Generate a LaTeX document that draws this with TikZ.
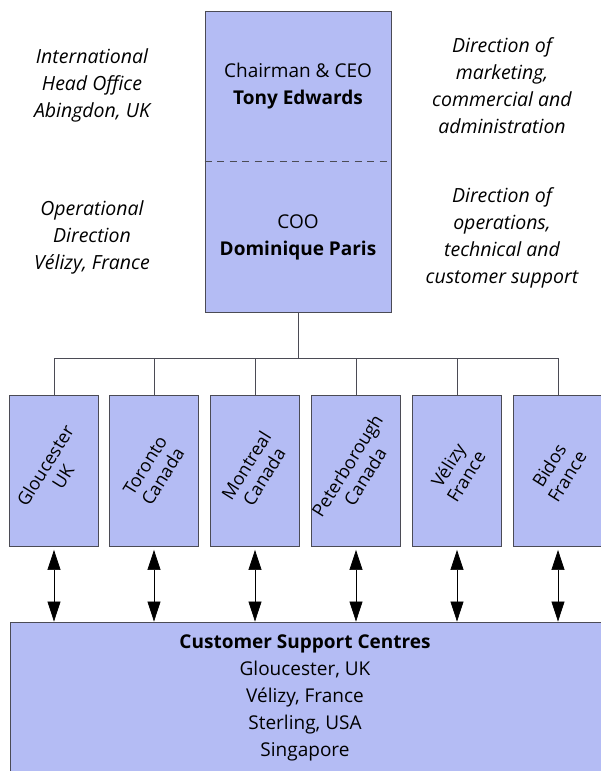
\documentclass[tikz,border=0pt]{standalone}
\usepackage{fontspec}
\setmainfont{Open Sans}
\usetikzlibrary{arrows.meta}
\definecolor{boxblue}{RGB}{180,188,244}
\definecolor{boxline}{RGB}{75,75,85}

\begin{document}
\begin{tikzpicture}[x=1pt,y=-1pt,
	orgbox/.style={draw=boxline, fill=boxblue, line width=0.9pt, inner sep=0pt},
	site/.style={orgbox, minimum width=89pt, minimum height=151pt},
	place/.style={rotate=58, align=center, font=\fontsize{18}{21}\selectfont},
	boxtext/.style={align=center, font=\fontsize{19}{27}\selectfont},
	note/.style={align=center, font=\fontsize{19.5}{27}\selectfont\itshape},
	link/.style={line width=0.7pt, draw=boxline},
	both/.style={line width=0.7pt, draw=black, {Triangle[length=20pt,width=13pt]}-{Triangle[length=20pt,width=13pt]}}]
		%%%%% START %%%%%
		\clip (0,0) rectangle (601,771);
		
		% head office box
		\node[orgbox, minimum width=186pt, minimum height=301pt] (head) at (298,161.5) {};
		\draw[boxline, line width=0.9pt, dash pattern=on 7pt off 5.5pt] (head.west) -- (head.east);
		\node[boxtext] (ceo) at (298,86) {Chairman \& CEO\\\textbf{Tony Edwards}};
		\node[boxtext] (coo) at (298,237) {COO\\\textbf{Dominique Paris}};
		
		% side notes
		\node[note] (hq) at (92,85) {International\\Head Office\\Abingdon, UK};
		\node[note] (ops) at (92,237) {Operational\\Direction\\Vélizy, France};
		\node[note] (mkt) at (502,86) {Direction of\\marketing,\\commercial and\\administration};
		\node[note] (tech) at (502,238) {Direction of\\operations,\\technical and\\customer support};
		
		% sites
		\node[site] (glo) at (54,471) {};
		\node[site] (tor) at (154,471) {};
		\node[site] (mon) at (255,471) {};
		\node[site] (pet) at (356,471) {};
		\node[site] (vel) at (457,471) {};
		\node[site] (bid) at (558,471) {};
		\node[place] at (glo) {Gloucester\\UK};
		\node[place] at (tor) {Toronto\\Canada};
		\node[place] at (mon) {Montreal\\Canada};
		\node[place] at (pet) {Peterborough\\Canada};
		\node[place] at (vel) {Vélizy\\France};
		\node[place] at (bid) {Bidos\\France};
		
		% customer support
		\node[orgbox, minimum width=594pt, minimum height=149pt] (csc) at (307,696.5) {};
		\node[boxtext] at (305,698) {\textbf{Customer Support Centres}\\Gloucester, UK\\Vélizy, France\\Sterling, USA\\Singapore};
		
		% links
		\draw[link] (head.south) -- ++(0,46) coordinate (bus);
		\foreach \s in {glo,tor,mon,pet,vel,bid}
			\draw[link] (bus) -| (\s.north);
		\foreach \s in {glo,tor,mon,pet,vel,bid}
			\draw[both, shorten <=3pt] (\s.south) -- (\s.south |- csc.north);
		
		%%%%% END %%%%%
\end{tikzpicture}
\end{document}
